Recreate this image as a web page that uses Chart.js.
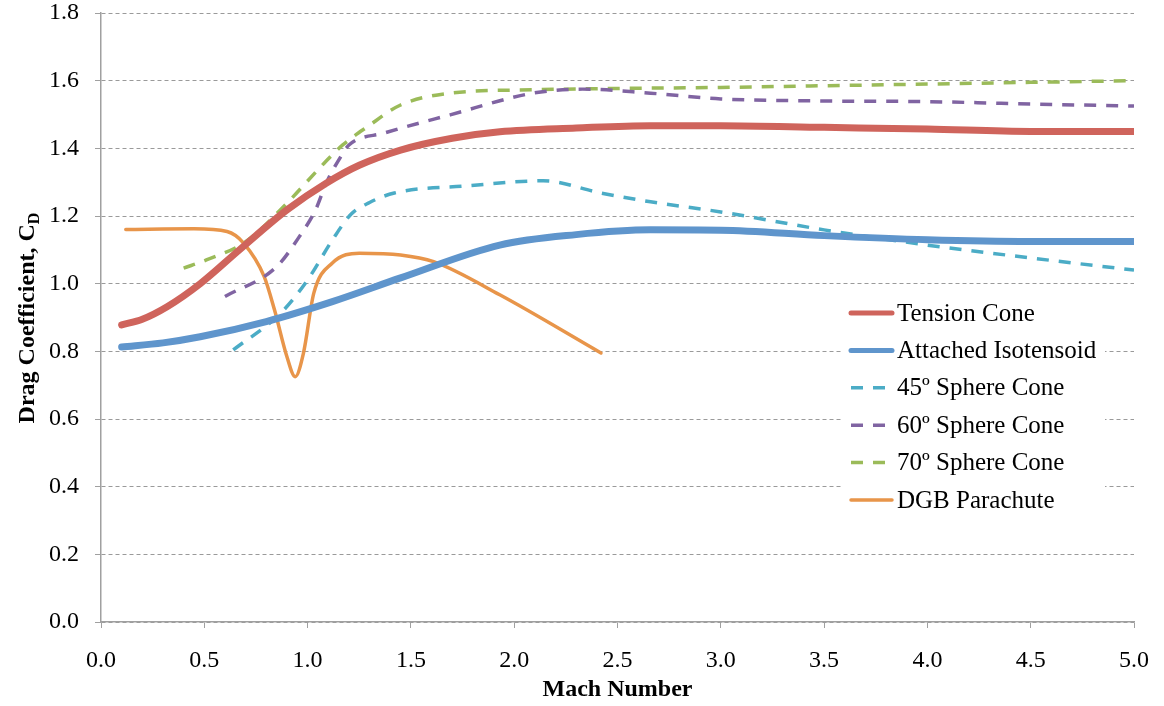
<!DOCTYPE html>
<html>
<head>
<meta charset="utf-8">
<script src="https://cdn.jsdelivr.net/npm/chart.js@4/dist/chart.umd.min.js"></script>
<style>
  html, body { margin: 0; padding: 0; background: #fff; }
  canvas { display: block; }
</style>
</head>
<body>
<canvas id="myChart" width="1164" height="706"></canvas>
<script>
// values (Mach number -> drag coefficient)
const tensionX = [0.1, 0.2, 0.32, 0.48, 0.67, 0.9, 1.09, 1.25, 1.45, 1.7, 1.93, 2.3, 2.66, 3.0, 3.5, 4.0, 4.5, 5.0];
const tensionY = [0.878, 0.895, 0.932, 1.0, 1.10, 1.218, 1.297, 1.35, 1.395, 1.43, 1.449, 1.46, 1.467, 1.467, 1.462, 1.457, 1.45, 1.45];

const isoX = [0.1, 0.3, 0.48, 0.8, 1.12, 1.45, 1.93, 2.3, 2.66, 3.0, 3.5, 4.0, 4.5, 5.0];
const isoY = [0.813, 0.825, 0.843, 0.888, 0.947, 1.017, 1.114, 1.145, 1.159, 1.158, 1.142, 1.13, 1.125, 1.125];

const sc45X = [0.64, 0.87, 1.0, 1.12, 1.21, 1.3, 1.42, 1.77, 2.14, 2.42, 2.66, 3.0, 3.5, 4.0, 4.5, 5.0];
const sc45Y = [0.804, 0.913, 1.011, 1.129, 1.205, 1.24, 1.268, 1.289, 1.304, 1.268, 1.242, 1.212, 1.159, 1.114, 1.076, 1.04];

const sc60X = [0.6, 0.85, 0.96, 1.04, 1.09, 1.16, 1.2, 1.37, 1.69, 2.09, 2.33, 2.66, 3.0, 3.5, 4.0, 4.5, 5.0];
const sc60Y = [0.962, 1.05, 1.139, 1.22, 1.297, 1.375, 1.41, 1.445, 1.499, 1.563, 1.575, 1.563, 1.546, 1.54, 1.538, 1.531, 1.525];

const sc70X = [0.4, 0.51, 0.7, 0.9, 1.08, 1.17, 1.29, 1.45, 1.69, 2.09, 2.66, 3.0, 3.5, 4.0, 4.5, 5.0];
const sc70Y = [1.046, 1.07, 1.124, 1.238, 1.356, 1.41, 1.464, 1.528, 1.563, 1.573, 1.578, 1.58, 1.585, 1.59, 1.595, 1.6];

const dgbX = [0.12, 0.45, 0.61, 0.69, 0.79, 0.84, 0.9, 0.94, 0.98, 1.03, 1.12, 1.25, 1.45, 1.61, 1.93, 2.42];
const dgbY = [1.16, 1.162, 1.154, 1.12, 1.021, 0.922, 0.784, 0.725, 0.795, 0.972, 1.061, 1.09, 1.085, 1.065, 0.967, 0.795];

const seriesNames = ['Tension Cone', 'Attached Isotensoid', '45\u00BA Sphere Cone', '60\u00BA Sphere Cone', '70\u00BA Sphere Cone', 'DGB Parachute'];
const xTitle = 'Mach Number';
const yTitle = 'Drag Coefficient, C';
const yTitleSub = 'D';

const FONT = '"Liberation Serif", "Times New Roman", serif';

const pts = (xs, ys) => xs.map((x, i) => ({ x: x, y: ys[i] }));

const makeSet = (name, xs, ys, color, width, dash) => ({
    label: name,
    data: pts(xs, ys),
    borderColor: color,
    backgroundColor: color,
    borderWidth: width,
    borderDash: dash,
    borderCapStyle: dash.length ? 'butt' : 'round',
    showLine: true,
    fill: false,
    pointRadius: 0,
    pointHoverRadius: 0,
    cubicInterpolationMode: 'monotone'
});

// y title with subscript and the boxed legend inside the plot
const overlay = {
    id: 'overlay',
    afterDraw(chart) {
        const ctx = chart.ctx;
        ctx.save();
        ctx.translate(34, 318);
        ctx.rotate(-Math.PI / 2);
        ctx.fillStyle = '#000';
        ctx.textBaseline = 'alphabetic';
        ctx.font = 'bold 24px ' + FONT;
        const w1 = ctx.measureText(yTitle).width;
        ctx.font = 'bold 16px ' + FONT;
        const w2 = ctx.measureText(yTitleSub).width;
        const start = -(w1 + w2) / 2;
        ctx.font = 'bold 24px ' + FONT;
        ctx.fillText(yTitle, start, 0);
        ctx.font = 'bold 16px ' + FONT;
        ctx.fillText(yTitleSub, start + w1, 5);
        ctx.restore();

        ctx.save();
        ctx.fillStyle = '#fff';
        ctx.fillRect(842, 296, 263, 222);
        chart.data.datasets.forEach((ds, i) => {
            const y = 313 + i * 37.4;
            ctx.beginPath();
            ctx.strokeStyle = ds.borderColor;
            ctx.lineWidth = ds.borderWidth > 5 ? 5 : ds.borderWidth;
            ctx.setLineDash(ds.borderDash);
            ctx.lineCap = ds.borderDash.length ? 'butt' : 'round';
            ctx.moveTo(851, y);
            ctx.lineTo(892, y);
            ctx.stroke();
            ctx.setLineDash([]);
            ctx.fillStyle = '#000';
            ctx.font = '25px ' + FONT;
            ctx.textBaseline = 'middle';
            ctx.textAlign = 'left';
            ctx.fillText(ds.label, 897, y + 1);
        });
        ctx.restore();
    }
};

Chart.defaults.font.family = FONT;
Chart.defaults.color = '#000';

new Chart(document.getElementById('myChart').getContext('2d'), {
    type: 'scatter',
    data: {
        datasets: [
            makeSet(seriesNames[0], tensionX, tensionY, '#CF645C', 7, []),
            makeSet(seriesNames[1], isoX, isoY, '#5F95CC', 7, []),
            makeSet(seriesNames[2], sc45X, sc45Y, '#4BACC6', 3.5, [12, 10]),
            makeSet(seriesNames[3], sc60X, sc60Y, '#8064A2', 3.5, [12, 10]),
            makeSet(seriesNames[4], sc70X, sc70Y, '#9BBB59', 3.5, [12, 10]),
            makeSet(seriesNames[5], dgbX, dgbY, '#E8954A', 3.5, [])
        ]
    },
    options: {
        responsive: false,
        animation: false,
        devicePixelRatio: 1,
        layout: { padding: { top: 13, right: 30, bottom: 0, left: 0 } },
        plugins: {
            legend: { display: false },
            tooltip: { enabled: false }
        },
        scales: {
            x: {
                type: 'linear',
                min: 0,
                max: 5,
                afterFit: (scale) => {
                    scale.height = 84;
                    scale.paddingLeft = 0;
                    scale.paddingRight = 0;
                },
                ticks: {
                    stepSize: 0.5,
                    padding: 18,
                    maxRotation: 0,
                    font: { size: 24 },
                    callback: (v) => v.toFixed(1)
                },
                grid: { drawOnChartArea: false, tickLength: 6, tickColor: '#A0A0A0', lineWidth: 1 },
                border: { color: '#A0A0A0', width: 1.5 },
                title: {
                    display: true,
                    text: xTitle,
                    font: { size: 24, weight: 'bold' },
                    padding: { top: 0, bottom: 2 }
                }
            },
            y: {
                min: 0,
                max: 1.8,
                afterFit: (scale) => {
                    scale.width = 101;
                    scale.paddingTop = 0;
                    scale.paddingBottom = 0;
                },
                ticks: {
                    stepSize: 0.2,
                    padding: 16,
                    font: { size: 24 },
                    callback: (v) => v.toFixed(1)
                },
                grid: { color: '#9A9A9A', lineWidth: 1, tickLength: 6, tickColor: '#A0A0A0' },
                border: { color: '#A0A0A0', width: 1.5, dash: [4, 3] }
            }
        }
    },
    plugins: [overlay]
});
</script>
</body>
</html>
